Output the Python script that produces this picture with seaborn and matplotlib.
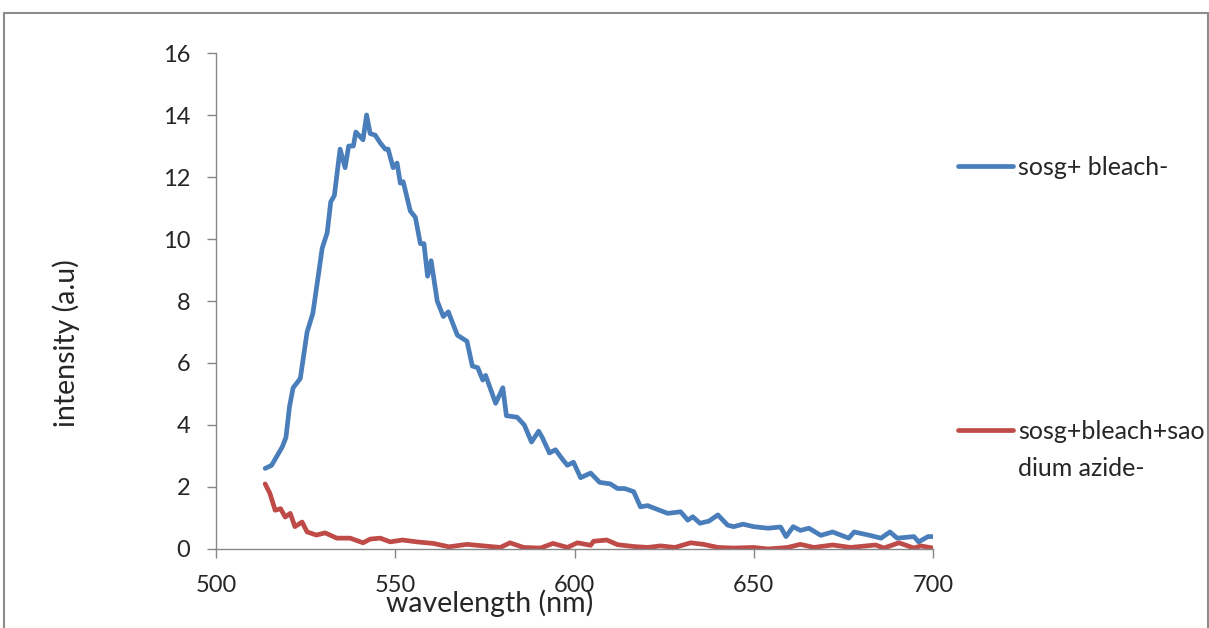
import matplotlib
matplotlib.use("Agg")
import matplotlib.pyplot as plt
import seaborn as sns
from matplotlib.patches import Rectangle

# wavelength (nm) / intensity
blue_wl = [513.7, 515.5, 517, 518.5, 519.5, 520.5, 521.5, 522.5, 523.5, 525.4,
           527, 528.5, 529.6, 531, 532, 533, 534.6, 536, 537, 538.3,
           539, 540.2, 541, 542, 543, 544.4, 545.8, 547.2, 548, 549.4,
           550.5, 551.4, 552.2, 554.2, 555.6, 557, 558, 559, 560, 561.7,
           563.4, 564.8, 567.3, 570, 571.5, 573, 574.4, 575.2, 578, 580,
           581, 584, 586, 588, 590, 591, 593, 594.7, 596.6, 598,
           599.7, 601.7, 604.5, 607, 610, 612, 614, 616.5, 618.4, 620.4,
           622.6, 626, 629.6, 631.6, 633, 635, 637.5, 640, 642.7, 644.4,
           647, 650, 654, 657.5, 659, 661, 663, 665.4, 668.7, 672,
           676.5, 678, 682, 685.5, 688, 690, 694.7, 696, 698.6, 700]
blue_int = [2.6, 2.7, 3.0, 3.3, 3.6, 4.6, 5.2, 5.35, 5.5, 7.0,
            7.6, 8.8, 9.7, 10.2, 11.2, 11.4, 12.9, 12.3, 13.0, 13.0,
            13.45, 13.3, 13.2, 14.0, 13.4, 13.35, 13.1, 12.9, 12.9, 12.3,
            12.45, 11.8, 11.85, 10.9, 10.7, 9.85, 9.85, 8.8, 9.3, 8.0,
            7.5, 7.65, 6.9, 6.7, 5.9, 5.85, 5.45, 5.6, 4.7, 5.2,
            4.3, 4.25, 4.0, 3.45, 3.8, 3.6, 3.1, 3.2, 2.9, 2.7,
            2.8, 2.3, 2.45, 2.15, 2.1, 1.95, 1.95, 1.85, 1.36, 1.4,
            1.3, 1.15, 1.2, 0.93, 1.04, 0.83, 0.9, 1.1, 0.77, 0.72,
            0.8, 0.72, 0.67, 0.71, 0.4, 0.72, 0.6, 0.67, 0.44, 0.55,
            0.35, 0.55, 0.45, 0.35, 0.55, 0.35, 0.4, 0.23, 0.4, 0.4]

red_wl = [513.7, 515, 516.5, 518, 519.3, 520.7, 522, 524, 525.4, 528,
          530.4, 533.7, 537.4, 541, 543, 545.8, 548.6, 552, 556, 560.6,
          565, 570, 574.6, 579.3, 582, 585.8, 590.5, 594, 598, 600.8,
          604.5, 605.3, 609, 612, 616.5, 620.4, 624, 628, 632.4, 636,
          640, 644.4, 650, 654, 659.5, 663, 666.8, 672, 677, 684,
          686.3, 690.5, 694.7, 696.6, 700]
red_int = [2.1, 1.8, 1.25, 1.3, 1.03, 1.15, 0.72, 0.87, 0.55, 0.45,
           0.52, 0.35, 0.35, 0.2, 0.32, 0.35, 0.23, 0.29, 0.23, 0.18,
           0.07, 0.15, 0.1, 0.05, 0.2, 0.05, 0.03, 0.18, 0.05, 0.2,
           0.12, 0.25, 0.29, 0.14, 0.08, 0.05, 0.1, 0.05, 0.2, 0.15,
           0.05, 0.03, 0.05, 0.0, 0.05, 0.15, 0.05, 0.13, 0.05, 0.13,
           0.03, 0.2, 0.03, 0.1, 0.03]

blue_label = "sosg+ bleach-"
red_label = "sosg+bleach+sao"
red_label_2 = "dium azide-"

x_ticks = [500, 550, 600, 650, 700]
y_ticks = [0, 2, 4, 6, 8, 10, 12, 14, 16]

sns.set_style("white")
plt.rcParams['font.family'] = ['Lato', 'DejaVu Sans']

fig = plt.figure(figsize=(12.09, 6.28), dpi=100)
ax = fig.add_axes([0.1787, 0.1258, 0.593, 0.7898])

# chart frame
fig.patches.append(Rectangle((0.003, -0.05), 0.996, 1.029, transform=fig.transFigure,
                             fill=False, edgecolor='#8c8c8c', lw=1.5))

sns.lineplot(x=blue_wl, y=blue_int, ax=ax, color='#4a7ebb', lw=3.4,
             estimator=None, label=blue_label, solid_joinstyle='round')
sns.lineplot(x=red_wl, y=red_int, ax=ax, color='#be4b48', lw=3.4,
             estimator=None, label=red_label, solid_joinstyle='round')

ax.set_xlim(500, 700)
ax.set_ylim(0, 16)
ax.set_xticks(x_ticks)
ax.set_yticks(y_ticks)
ax.tick_params(axis='both', labelsize=17, length=6.5, width=1, color='#868686',
               pad=12, direction='out', left=True, bottom=True)
for s in ['top', 'right']:
    ax.spines[s].set_visible(False)
for s in ['left', 'bottom']:
    ax.spines[s].set_color('#868686')
    ax.spines[s].set_linewidth(1)

ax.set_xlabel("wavelength (nm)", fontsize=20.5)
ax.xaxis.set_label_coords(0.382, -0.082)
ax.set_ylabel("intensity (a.u)", fontsize=20.5)
ax.yaxis.set_label_coords(-0.19, 0.415)

leg = ax.legend(loc='upper left', bbox_to_anchor=(1.021, 0.813), frameon=False,
                fontsize=18, handlelength=2.2, handletextpad=0.2,
                labelspacing=9.65, borderaxespad=0)
ax.text(1.1185, 0.163, red_label_2, transform=ax.transAxes, fontsize=18,
        va='center', ha='left')

fig.savefig("out.png", dpi=100)
